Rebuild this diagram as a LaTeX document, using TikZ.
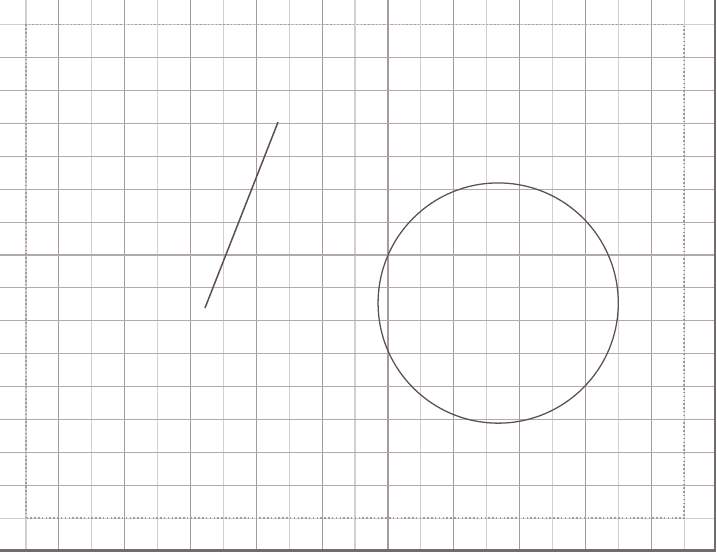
\documentclass[tikz,border=0pt]{standalone}
\usepackage{tikz}
\definecolor{gridlight}{RGB}{212,206,206}
\definecolor{gridmajor}{RGB}{165,155,155}
\definecolor{ink}{RGB}{92,80,80}

\begin{document}
\begin{tikzpicture}[x=1cm, y=1cm]
  \useasboundingbox (-0.79,-1.09) rectangle (21.0,15.75);
  % sheet of squared paper
  \draw[gridlight, line width=1pt, step=1] (-0.79,-0.98) grid (20.94,15.75);
  \foreach \x in {1,3,...,19}
    \draw[gridmajor, line width=1pt] (\x,-0.98) -- (\x,15.75);
  \foreach \y in {1,...,14}
    \draw[gridmajor!85, line width=1pt] (-0.79,\y) -- (20.94,\y);
  \draw[gridmajor, dotted, line width=1.3pt] (0,0) rectangle (20,15);
  \draw[ink!85, line width=2pt] (-0.79,-0.98) -- (20.94,-0.98) -- (20.94,15.75);
  % the two figures
  \coordinate (lineA) at (5.44,6.39);
  \coordinate (lineB) at (7.66,12.04);
  \coordinate (centre) at (14.35,6.54);
  \draw[ink, line width=1.3pt] (lineA) -- (lineB);
  \draw[ink, line width=1.1pt] (centre) circle (3.65);
\end{tikzpicture}
\end{document}
